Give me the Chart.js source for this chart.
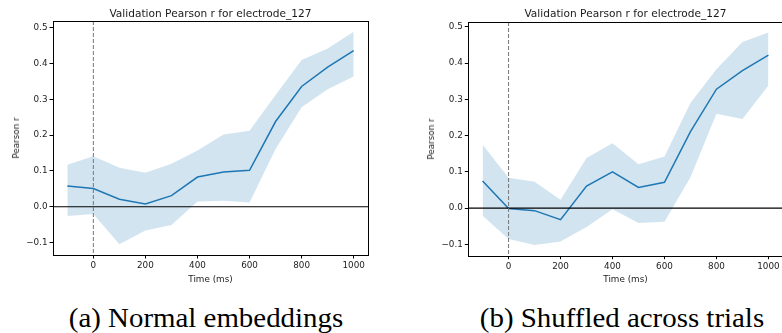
<!DOCTYPE html>
<html>
<head>
<meta charset="utf-8">
<script src="https://cdn.jsdelivr.net/npm/chart.js@4.4.1/dist/chart.umd.min.js"></script>
<style>
    body {
        margin: 0;
        width: 782px;
        height: 333px;
        overflow: hidden;
        background: #fff;
        position: relative;
        font-family: "DejaVu Sans", sans-serif;
        color: #1a1a1a;
    }
    canvas { position: absolute; top: 0; }
    #leftChart { left: 0; }
    #rightChart { left: 391px; }
    .lbl {
        position: absolute;
        white-space: nowrap;
        transform: translate(-50%, -50%);
        font-size: 8.8px;
    }
    .ttl { font-size: 10.6px; }
    .ylab { transform: translate(-50%, -50%) rotate(-90deg); }
    .cap {
        position: absolute;
        white-space: nowrap;
        font-family: "Liberation Serif", serif;
        font-size: 27px;
        line-height: 27px;
        top: 305px;
        transform: translateX(-50%) scaleX(1.07);
        color: #000;
    }
</style>
</head>
<body>
<canvas id="leftChart" width="391" height="290"></canvas>
<canvas id="rightChart" width="400" height="290"></canvas>

<div class="lbl ttl" style="left:210.5px; top:12.5px;">Validation Pearson r for electrode_127</div>
<div class="lbl ttl" style="left:625.5px; top:12.5px;">Validation Pearson r for electrode_127</div>
<div class="lbl ylab" style="left:15.7px; top:138px;">Pearson r</div>
<div class="lbl ylab" style="left:431px; top:139px;">Pearson r</div>
<div class="lbl" style="left:210.5px; top:279px;">Time (ms)</div>
<div class="lbl" style="left:625.5px; top:279px;">Time (ms)</div>
<div class="cap" style="left:206px;">(a) Normal embeddings</div>
<div class="cap" style="left:622px;">(b) Shuffled across trials</div>

<script>
const timesMs = [-100, 0, 100, 200, 300, 400, 500, 600, 700, 800, 900, 1000];

const normalMean  = [0.058, 0.051, 0.021, 0.008, 0.031, 0.083, 0.097, 0.102, 0.238, 0.336, 0.390, 0.436];
const normalUpper = [0.117, 0.141, 0.109, 0.095, 0.120, 0.157, 0.202, 0.212, 0.312, 0.410, 0.442, 0.489];
const normalLower = [-0.026, -0.020, -0.105, -0.066, -0.051, 0.015, 0.017, 0.012, 0.161, 0.278, 0.328, 0.364];

const shuffledMean  = [0.075, -0.001, -0.007, -0.032, 0.061, 0.100, 0.057, 0.071, 0.211, 0.328, 0.379, 0.422];
const shuffledUpper = [0.175, 0.084, 0.073, 0.023, 0.138, 0.179, 0.121, 0.142, 0.290, 0.383, 0.458, 0.484];
const shuffledLower = [-0.021, -0.085, -0.102, -0.092, -0.052, -0.003, -0.041, -0.038, 0.085, 0.260, 0.246, 0.338];

const xTicks = [0, 200, 400, 600, 800, 1000];
const yTicks = [-0.1, 0.0, 0.1, 0.2, 0.3, 0.4, 0.5];

const lineColor = "#1f77b4";
const bandColor = "rgba(31, 119, 180, 0.2)";

function toPoints(values) {
    return timesMs.map((t, i) => ({ x: t, y: values[i] }));
}

// zero line, stimulus line and the box round the axes
const refLines = {
    id: "refLines",
    afterDatasetsDraw(chart) {
        const { ctx, chartArea, scales } = chart;
        const y0 = scales.y.getPixelForValue(0);
        const x0 = scales.x.getPixelForValue(0);
        ctx.save();
        ctx.strokeStyle = "#000";
        ctx.lineWidth = 1.2;
        ctx.beginPath();
        ctx.moveTo(chartArea.left, y0);
        ctx.lineTo(chartArea.right, y0);
        ctx.stroke();

        ctx.strokeStyle = "#777";
        ctx.lineWidth = 1;
        ctx.setLineDash([4, 2]);
        ctx.beginPath();
        ctx.moveTo(x0, chartArea.top);
        ctx.lineTo(x0, chartArea.bottom);
        ctx.stroke();
        ctx.restore();
    },
    afterDraw(chart) {
        const { ctx, chartArea } = chart;
        ctx.save();
        ctx.strokeStyle = "#000";
        ctx.lineWidth = 1;
        ctx.strokeRect(
            Math.round(chartArea.left) + 0.5,
            Math.round(chartArea.top) + 0.5,
            Math.round(chartArea.right - chartArea.left),
            Math.round(chartArea.bottom - chartArea.top)
        );
        ctx.restore();
    }
};

function makeChart(id, mean, upper, lower, box) {
    const yMin = Math.min(...lower), yMax = Math.max(...upper);
    const yPad = (yMax - yMin) * 0.05;
    const xPad = (timesMs[timesMs.length - 1] - timesMs[0]) * 0.05;

    return new Chart(document.getElementById(id), {
        type: "line",
        data: {
            datasets: [
                {
                    data: toPoints(upper),
                    borderWidth: 0,
                    pointRadius: 0,
                    backgroundColor: bandColor,
                    fill: "+1"
                },
                {
                    data: toPoints(lower),
                    borderWidth: 0,
                    pointRadius: 0,
                    fill: false
                },
                {
                    data: toPoints(mean),
                    borderColor: lineColor,
                    borderWidth: 1.5,
                    pointRadius: 0,
                    fill: false
                }
            ]
        },
        options: {
            responsive: false,
            animation: false,
            devicePixelRatio: 1,
            layout: { padding: { top: box.top, right: box.right, left: 0, bottom: 0 } },
            plugins: { legend: { display: false }, tooltip: { enabled: false } },
            scales: {
                x: {
                    type: "linear",
                    min: timesMs[0] - xPad,
                    max: timesMs[timesMs.length - 1] + xPad,
                    afterBuildTicks: s => { s.ticks = xTicks.map(v => ({ value: v })); },
                    afterFit: s => { s.height = box.xHeight; },
                    border: { display: false },
                    grid: { drawOnChartArea: false, drawTicks: true, tickLength: 3.5, color: "#000" },
                    ticks: {
                        color: "#222",
                        font: { size: 8.8, family: "DejaVu Sans" },
                        padding: 2,
                        maxRotation: 0,
                        callback: v => String(v)
                    }
                },
                y: {
                    min: yMin - yPad,
                    max: yMax + yPad,
                    afterBuildTicks: s => { s.ticks = yTicks.map(v => ({ value: v })); },
                    afterFit: s => { s.width = box.yWidth; },
                    border: { display: false },
                    grid: { drawOnChartArea: false, drawTicks: true, tickLength: 3.5, color: "#000" },
                    ticks: {
                        color: "#222",
                        font: { size: 8.8, family: "DejaVu Sans" },
                        padding: 2,
                        callback: v => (v < 0 ? "\u2212" : "") + Math.abs(v).toFixed(1)
                    }
                }
            }
        },
        plugins: [refLines]
    });
}

makeChart("leftChart", normalMean, normalUpper, normalLower,
    { top: 21, right: 23, yWidth: 53, xHeight: 35 });
makeChart("rightChart", shuffledMean, shuffledUpper, shuffledLower,
    { top: 22, right: 8.3, yWidth: 77.3, xHeight: 34.3 });
</script>
</body>
</html>
